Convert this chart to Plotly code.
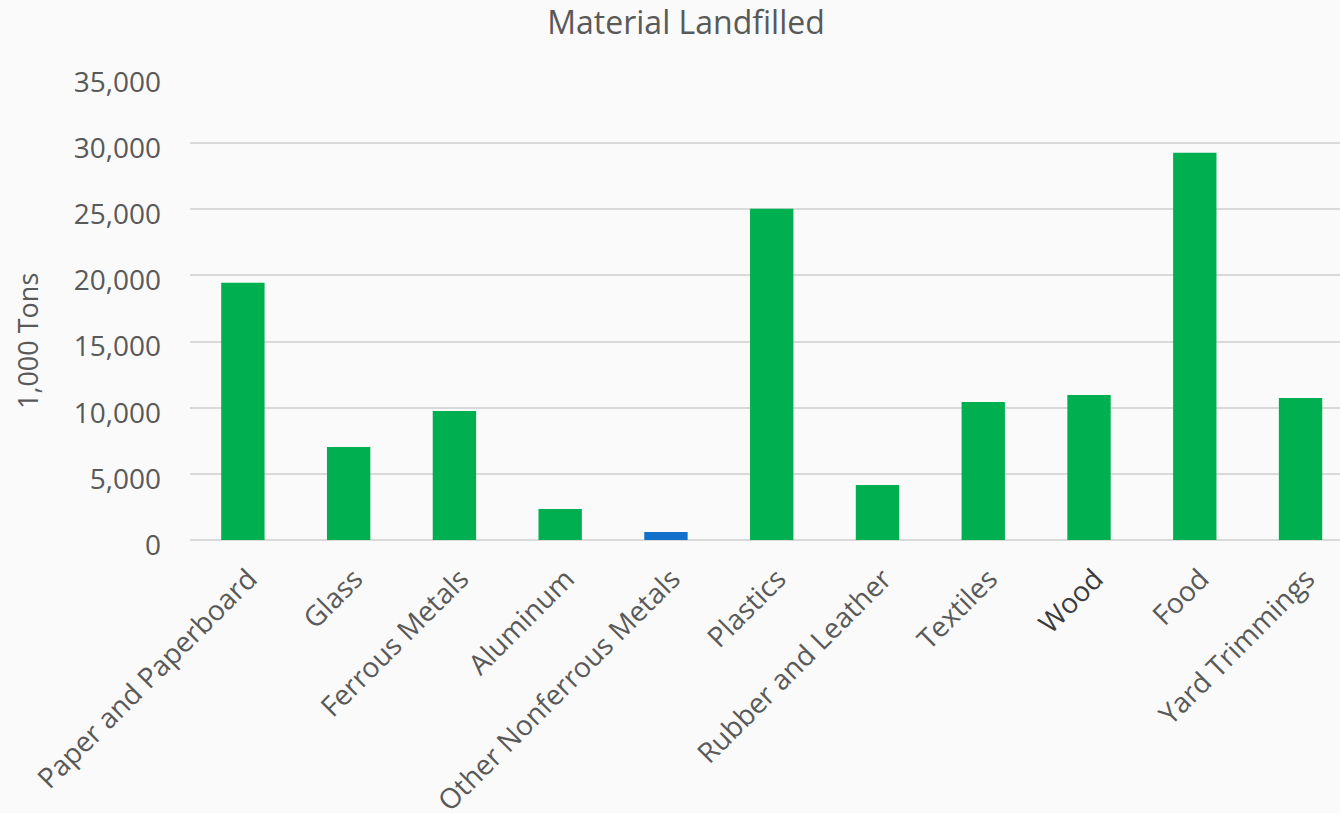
import plotly.graph_objects as go

categories = ["Paper and Paperboard", "Glass", "Ferrous Metals", "Aluminum",
              "Other Nonferrous Metals", "Plastics", "Rubber and Leather",
              "Textiles", "Wood", "Food", "Yard Trimmings"]
tons = [19440, 7030, 9760, 2340, 610, 25040, 4160, 10440, 10970, 29270, 10740]
bar_colors = ["#00B050", "#00B050", "#00B050", "#00B050", "#1170CC", "#00B050",
              "#00B050", "#00B050", "#00B050", "#00B050", "#00B050"]
tick_labels = ["Paper and Paperboard", "Glass", "Ferrous Metals", "Aluminum",
               "Other Nonferrous Metals", "Plastics", "Rubber and Leather",
               "Textiles", "<span style='color:#3c3c3c'>Wood</span>", "Food", "Yard Trimmings"]
y_ticks = [0, 5000, 10000, 15000, 20000, 25000, 30000, 35000]

FONT = "Open Sans"
TXT = "#595959"

fig = go.Figure(go.Bar(
    x=list(range(len(categories))),
    y=tons,
    marker=dict(color=bar_colors, line=dict(width=0)),
    hovertext=categories,
))

fig.update_layout(
    width=1340, height=813,
    paper_bgcolor="#FAFAFA", plot_bgcolor="#FAFAFA",
    margin=dict(l=190, r=0, t=77, b=273, autoexpand=False),
    bargap=0.59,
    showlegend=False,
    font=dict(family=FONT, color=TXT, size=28),
    title=dict(text="Material Landfilled", x=686/1340, xanchor="center",
               y=1 - 23/813, yanchor="middle", yref="container",
               font=dict(family=FONT, size=32, color=TXT)),
    xaxis=dict(
        range=[-0.5, 10.373],
        tickmode="array",
        tickvals=list(range(len(categories))),
        ticktext=tick_labels,
        tickangle=-45,
        tickfont=dict(family=FONT, size=28, color=TXT),
        showgrid=False,
        showline=False,
        zeroline=False,
        ticks="",
        automargin=False,
        ticklabelstandoff=16,
        ticklabelshift=6,
    ),
    yaxis=dict(
        range=[0, 35000],
        tickmode="array",
        tickvals=y_ticks,
        tickformat=",d",
        tickfont=dict(family=FONT, size=28, color=TXT),
        showgrid=True, gridcolor="#D9D9D9", gridwidth=2,
        zeroline=True, zerolinecolor="#D9D9D9", zerolinewidth=2,
        showline=False, ticks="",
        automargin=False,
        ticklabelstandoff=28,
        ticklabelshift=5,
    ),
    annotations=[dict(
        text="1,000 Tons", textangle=-90,
        xref="paper", yref="paper",
        x=(27 - 190) / 1150, y=(540 - 341) / 463,
        xanchor="center", yanchor="middle", showarrow=False,
        font=dict(family=FONT, size=27, color=TXT),
    )],
)

fig.write_html("out.html")
